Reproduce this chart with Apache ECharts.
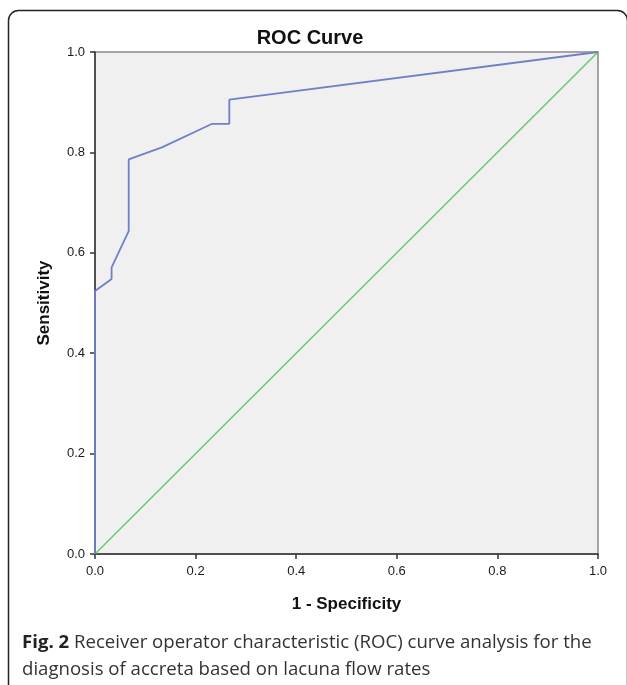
<!DOCTYPE html>
<html>
<head>
<meta charset="utf-8">
<script src="https://cdn.jsdelivr.net/npm/echarts@6/dist/echarts.min.js"></script>
<style>
html,body{margin:0;padding:0;background:#fff;}
#chart{width:627px;height:685px;}
</style>
</head>
<body>
<div id="chart"></div>
<script>
// ROC curve points (1 - specificity, sensitivity)
const fpr = [0, 0, 0.033, 0.033, 0.067, 0.067, 0.133, 0.233, 0.267, 0.267, 1];
const tpr = [0, 0.524, 0.548, 0.571, 0.643, 0.786, 0.810, 0.857, 0.857, 0.905, 1];
// Reference (chance) line
const refX = [0, 1];
const refY = [0, 1];
const titleText = 'ROC Curve';
const xName = '1 - Specificity';
const yName = 'Sensitivity';
const captionBold = 'Fig. 2';
const captionLine1 = ' Receiver operator characteristic (ROC) curve analysis for the';
const captionLine2 = 'diagnosis of accreta based on lacuna flow rates';

const chart = echarts.init(document.getElementById('chart'));
const axisFont = 'Liberation Sans, Arial, sans-serif';
const capFont = 'Open Sans, Noto Sans, sans-serif';
chart.setOption({
  animation: false,
  backgroundColor: '#fff',
  title: {
    text: titleText,
    left: 305, top: 23,
    textAlign: 'center',
    textStyle: {fontFamily: axisFont, fontWeight: 'bold', fontSize: 20, color: '#111'}
  },
  grid: {
    left: 95, top: 52, width: 503, height: 502,
    show: true, backgroundColor: '#f0f0f0', borderColor: '#8a8a8a', borderWidth: 1.5
  },
  xAxis: {
    type: 'value', min: 0, max: 1, interval: 0.2,
    name: xName, nameLocation: 'middle', nameGap: 42,
    nameTextStyle: {fontFamily: axisFont, fontWeight: 'bold', fontSize: 17, color: '#111'},
    axisLine: {show: true, onZero: false, lineStyle: {color: '#333', width: 1.5}},
    axisTick: {show: true, inside: false, length: 5, lineStyle: {color: '#333', width: 1.5}},
    axisLabel: {fontFamily: axisFont, fontSize: 13, color: '#1a1a1a', margin: 11,
      formatter: v => v.toFixed(1)},
    splitLine: {show: false}
  },
  yAxis: {
    type: 'value', min: 0, max: 1, interval: 0.2,
    name: yName, nameLocation: 'middle', nameGap: 42,
    nameTextStyle: {fontFamily: axisFont, fontWeight: 'bold', fontSize: 17, color: '#111'},
    axisLine: {show: true, onZero: false, lineStyle: {color: '#333', width: 1.5}},
    axisTick: {show: true, inside: false, length: 5, lineStyle: {color: '#333', width: 1.5}},
    axisLabel: {fontFamily: axisFont, fontSize: 13, color: '#1a1a1a', margin: 10,
      formatter: v => v.toFixed(1)},
    splitLine: {show: false}
  },
  series: [
    {
      type: 'line', name: 'Reference', showSymbol: false, symbol: 'none',
      data: refX.map((x, i) => [x, refY[i]]),
      lineStyle: {color: '#6cc86c', width: 1.5}, z: 2
    },
    {
      type: 'line', name: 'ROC', showSymbol: false, symbol: 'none',
      data: fpr.map((x, i) => [x, tpr[i]]),
      lineStyle: {color: '#6f80c8', width: 1.8}, z: 3
    }
  ],
  graphic: [
    {
      type: 'rect', silent: true,
      shape: {x: 8.5, y: 10.5, width: 619, height: 720, r: 10},
      style: {fill: 'none', stroke: '#222', lineWidth: 1.5}
    },
    {
      type: 'text', left: 22, top: 633,
      style: {
        text: '{b|' + captionBold + '}{n|' + captionLine1 + '}\n{n|' + captionLine2 + '}',
        rich: {
          b: {fontFamily: capFont, fontWeight: 'bold', fontSize: 18.6, fill: '#222', lineHeight: 27},
          n: {fontFamily: capFont, fontSize: 18.6, fill: '#333', lineHeight: 27}
        }
      }
    }
  ]
});
</script>
</body>
</html>
